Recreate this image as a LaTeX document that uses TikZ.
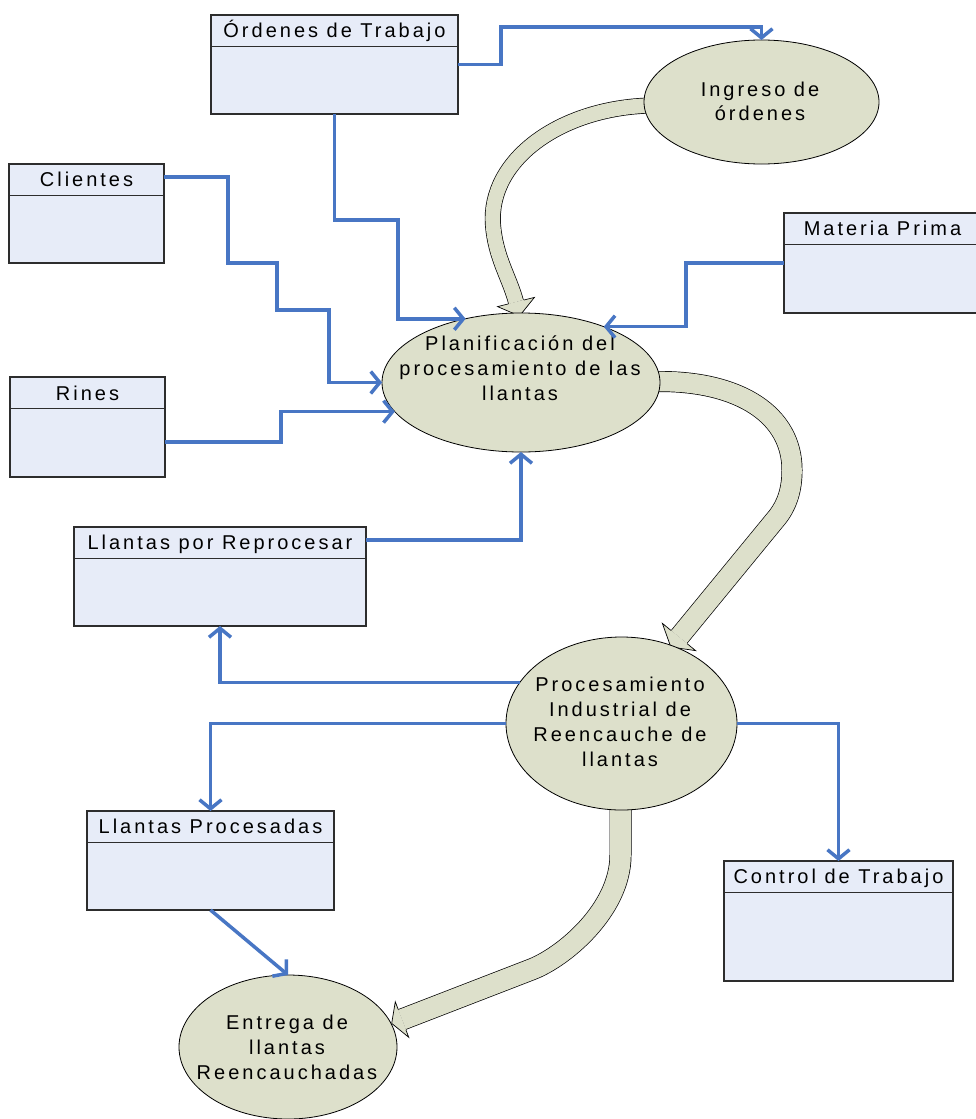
\documentclass[tikz,border=0pt]{standalone}
\usepackage{fontspec}
\usetikzlibrary{shapes.geometric,arrows.meta,calc}
\newfontfamily\boxfont[LetterSpace=15]{Liberation Sans}
\newfontfamily\ellfont[LetterSpace=15]{Liberation Sans}
\definecolor{boxfill}{RGB}{231,236,248}
\definecolor{ellfill}{RGB}{221,224,203}
\definecolor{connblue}{RGB}{72,118,196}
\definecolor{boxline}{RGB}{45,45,45}
% arrowhead of a band: #1 base centre, #2 tip, #3 half band width, #4 half wing width
\newcommand\bandhead[4]{%
  \fill[ellfill] ($(#1)!#4!90:(#2)$) -- (#2) -- ($(#1)!#4!-90:(#2)$) -- cycle;
  \draw[line width=0.7pt] ($(#1)!#3!90:(#2)$) -- ($(#1)!#4!90:(#2)$) -- (#2)
     -- ($(#1)!#4!-90:(#2)$) -- ($(#1)!#3!-90:(#2)$);}
\newcommand\hdrline[1]{%
  \draw[boxline, line width=1.1pt] ($(#1.north west)+(0,31.5)$) -- ($(#1.north east)+(0,31.5)$);}
\begin{document}
\begin{tikzpicture}[x=1pt,y=-1pt,
  dbox/.style={rectangle, draw=boxline, line width=1.1pt, fill=boxfill, inner sep=0pt, outer sep=0pt},
  bubble/.style={ellipse, draw=black, line width=0.8pt, fill=ellfill, inner sep=0pt, outer sep=0pt},
  boxtext/.style={font=\boxfont\fontsize{20}{23}\selectfont, inner sep=0pt, anchor=base},
  elltext/.style={font=\ellfont\fontsize{20}{25}\selectfont, align=center, inner sep=0pt},
  conn/.style={draw=connblue, line width=3.5pt, -{Straight Barb[length=9pt,width=22pt]}},
  band/.style={draw=black, line width=0.7pt, double=ellfill, double distance=#1}]
\useasboundingbox (0,0) rectangle (976,1119);

% ---- wide curved flow arrows
\coordinate (EA) at (516,302);   \coordinate (TA) at (519.5,316);
\coordinate (EB) at (679,637);   \coordinate (TB) at (670.8,647);
\coordinate (EC) at (402,1019.5);\coordinate (TC) at (391.7,1023.4);
\draw[band=14.6] (650,105.5) .. controls (560,108) and (488,160) .. (493,225)
   .. controls (495.5,257.5) and (509.5,277.5) .. (EA);
\bandhead{EA}{TA}{8pt}{19pt}
\draw[band=19.6] (650,381.5) -- (660,381.5) .. controls (740,381.5) and (792,415) .. (792,470)
   .. controls (792,488) and (788,505) .. (775,520) -- (EB);
\bandhead{EB}{TB}{10.5pt}{21.5pt}
\draw[band=20.6] (620.5,800) -- (620.5,855) .. controls (620.5,910) and (563,958) .. (530,970) -- (EC);
\bandhead{EC}{TC}{11pt}{19pt}

% ---- processes
\node[bubble, minimum width=235pt, minimum height=124pt] (ing) at (761.5,102) {};
\node[bubble, minimum width=278pt, minimum height=139pt] (plan) at (521,382.5) {};
\node[bubble, minimum width=231pt, minimum height=173pt] (proc) at (621.5,723.5) {};
\node[bubble, minimum width=218pt, minimum height=144pt] (ent) at (288,1047) {};
\node[elltext, font=\ellfont\fontsize{20}{23.5}\selectfont] (ingt) at (760,101.5) {Ingreso de\\órdenes};
\node[elltext] (plant) at (520,368) {Planificación del\\procesamiento de las\\llantas};
\node[elltext] (proct) at (620,722) {Procesamiento\\Industrial de\\Reencauche de\\llantas};
\node[elltext] (entt) at (287,1047.5) {Entrega de\\llantas\\Reencauchadas};

% ---- data stores
\node[dbox, minimum width=247pt, minimum height=99pt] (ord) at (334.5,64.5) {};
\node[dbox, minimum width=155pt, minimum height=99pt] (cli) at (86.5,213.5) {};
\node[dbox, minimum width=197pt, minimum height=100pt] (mat) at (882.5,263) {};
\node[dbox, minimum width=155pt, minimum height=100pt] (rin) at (87.5,427) {};
\node[dbox, minimum width=292pt, minimum height=99pt] (llr) at (220,576.5) {};
\node[dbox, minimum width=247pt, minimum height=99pt] (lp) at (210.5,860.5) {};
\node[dbox, minimum width=229pt, minimum height=120pt] (ctrl) at (838.5,921) {};
\hdrline{ord}\hdrline{cli}\hdrline{mat}\hdrline{rin}\hdrline{llr}\hdrline{lp}\hdrline{ctrl}
\node[boxtext] (ordt) at ($(ord.north)+(0,22)$) {Órdenes de Trabajo};
\node[boxtext] (clit) at ($(cli.north)+(0,22)$) {Clientes};
\node[boxtext] (matt) at ($(mat.north)+(0,22)$) {Materia Prima};
\node[boxtext] (rint) at ($(rin.north)+(0,23)$) {Rines};
\node[boxtext] (llrt) at ($(llr.north)+(0,22)$) {Llantas por Reprocesar};
\node[boxtext] (lpt) at ($(lp.north)+(0,22)$) {Llantas Procesadas};
\node[boxtext] (ctrlt) at ($(ctrl.north)+(0,22)$) {Control de Trabajo};

% ---- data flows
\draw[conn] (ord.east) -- ++(43,0) |- ($(ing.north)+(0,-13)$) -- (ing.north);
\draw[conn] (ord.south) |- (398,220) |- (plan.131.7);
\draw[conn] ($(cli.north east)+(0,13)$) -| (228,263) -| (277,310) -| ($(plan.west)+(-53,0)$) -- (plan.west);
\draw[conn] ($(rin.east)+(0,15)$) -- ++(116,0) |- (plan.193.2);
\draw[conn] (mat.west) -- ++(-98,0) |- (plan.34.9);
\draw[conn] ($(llr.north east)+(0,13)$) -| (plan.south);
\draw[conn] (proc.158.3) -| (llr.south);
\draw[conn] (proc.west) -| (lp.north);
\draw[conn] (proc.east) -| (ctrl.north);
\draw[conn] (lp.south) -- (ent.north);
\end{tikzpicture}
\end{document}
